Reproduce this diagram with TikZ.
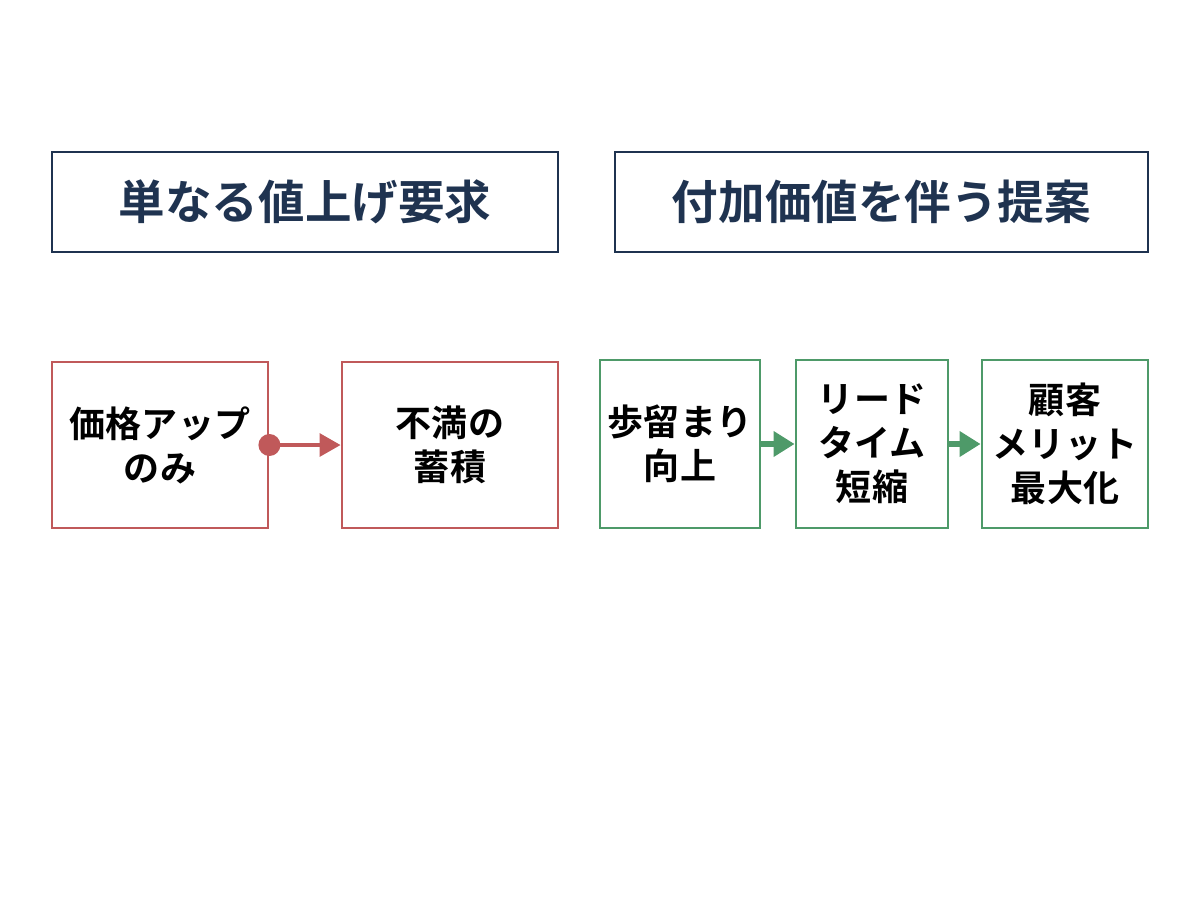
\documentclass[tikz,border=0pt]{standalone}
\usepackage{fontspec}
\setmainfont{Noto Sans CJK JP}[BoldFont={Noto Sans CJK JP Bold}]
\usetikzlibrary{arrows.meta}
\definecolor{navy}{HTML}{1F3350}
\definecolor{redb}{HTML}{C0595A}
\definecolor{greenb}{HTML}{4E9A69}

\begin{document}
\begin{tikzpicture}[x=0.02cm,y=-0.02cm,
    head/.style={draw=navy, line width=1.6pt, text=navy, font=\bfseries\fontsize{26.5}{30}\selectfont, inner sep=0pt},
    step/.style={draw=#1, line width=1.6pt, fill=white, font=\bfseries\fontsize{20.5}{25}\selectfont, align=center, inner sep=0pt}]
    \useasboundingbox (0,0) rectangle (1200,896);

    % Draw the header boxes
    \node[head, minimum width=506*0.02cm, minimum height=100*0.02cm] (simple) at (305,202) {単なる値上げ要求};
    \node[head, minimum width=533*0.02cm, minimum height=100*0.02cm] (added) at (881.5,202) {付加価値を伴う提案};

    % Draw the red flow
    \node[step=redb, minimum width=216*0.02cm, minimum height=166*0.02cm] (price) at (160,445) {価格アップ\\のみ};
    \node[step=redb, minimum width=216*0.02cm, minimum height=166*0.02cm] (discontent) at (450,445) {不満の\\蓄積};
    \draw[redb, line width=2.2pt, -{Triangle[length=12pt,width=13pt]}] (price.east) -- (discontent.west);
    \fill[redb] (price.east) circle (11);

    % Draw the green flow
    \node[step=greenb, minimum width=160*0.02cm, minimum height=168*0.02cm] (yield) at (680,444) {歩留まり\\向上};
    \node[step=greenb, minimum width=152*0.02cm, minimum height=168*0.02cm] (lead) at (872,444) {リード\\タイム\\短縮};
    \node[step=greenb, minimum width=166*0.02cm, minimum height=168*0.02cm] (merit) at (1065,444) {顧客\\メリット\\最大化};
    \draw[greenb, line width=3pt, -{Triangle[length=12pt,width=14pt]}] (yield.east) -- (lead.west);
    \draw[greenb, line width=3pt, -{Triangle[length=12pt,width=14pt]}] (lead.east) -- (merit.west);
\end{tikzpicture}
\end{document}
